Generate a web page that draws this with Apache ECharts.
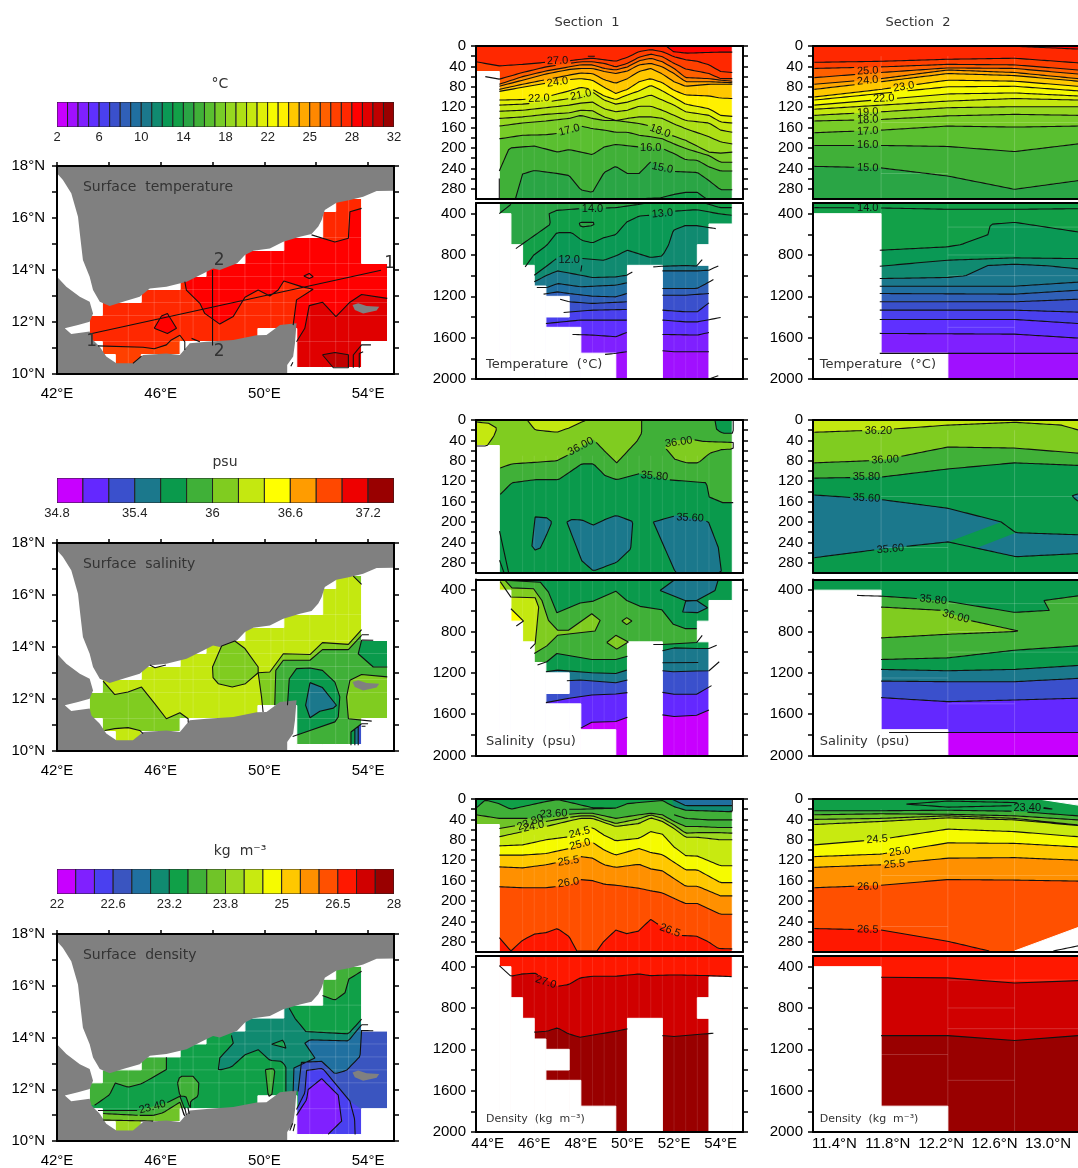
<!DOCTYPE html>
<html><head><meta charset="utf-8">
<style>html,body{margin:0;padding:0;background:#fff}#c{width:1078px;height:1168px}</style>
<script src="https://cdn.jsdelivr.net/npm/echarts@6/dist/echarts.min.js"></script>
</head><body><div id="c"></div>
<script>
// ---------- colour scales ----------
const tempColors=['#c800ff','#a010ff','#7f20ff','#5f30ff','#4a40ee','#3a50cc','#3060b8','#206fa0','#1b788c','#108a70','#0a9955','#12a048','#2aa545','#40b038','#5abf30','#78cc28','#96d820','#aee015','#c6e810','#e0f008','#f6fb00','#fff000','#ffc800','#ffa800','#ff8800','#ff6000','#ff4000','#ff2800','#ff0000','#e00000','#c00000','#990000'];
const salColors=['#c800ff','#6428ff','#3a50cc','#1b788c','#0a9a4c','#40b038','#80cc20','#c4e810','#ffff00','#ff9c00','#ff4800','#ee0000','#990000'];
const densColors=['#c800ff','#8020ff','#4a40f0','#3a55c0','#2070a0','#108a70','#10a048','#40b038','#70c428','#9cd820','#c8ea10','#f6fb00','#ffc800','#ff9000','#ff5000','#ff1800','#d00000','#990000'];
const tempBarIdx=[0,4,8,12,16,20,24,28,32], tempBarLabels=['2','6','10','14','18','22','25','28','32'];
const salBarIdx=[0,3,6,9,12], salBarLabels=['34.8','35.4','36','36.6','37.2'];
const densBarIdx=[0,3,6,9,12,15,18], densBarLabels=['22','22.6','23.2','23.8','25','26.5','28'];
// ---------- axis ticks ----------
const mapLonTicks=[42,44,46,48,50,52,54], mapLonLabels=[42,46,50,54];
const mapLatTicks=[10,11,12,13,14,15,16,17,18], mapLatLabels=[10,12,14,16,18];
const sec1LonLabels=[44,46,48,50,52,54], sec2LatLabels=[11.4,11.8,12.2,12.6,13.0];
const shallowTicks=[0,20,40,60,80,100,120,140,160,180,200,220,240,260,280], shallowLabels=[0,40,80,120,160,200,240,280];
const deepTicks=[400,600,800,1000,1200,1400,1600,1800,2000], deepLabels=[400,800,1200,1600,2000];
// ---------- faint grid traces seen on the fields ----------
const faintMapLons=[44.75,45.75,46.75,47.25,48.25,49.25,50.25,50.75,51.75,52.75,53.25], faintMapLats=[11.25,12.25,12.75,13.25,13.75,14.25,15.25];
const faintSec1Lons=[45.5,46,46.5,47,47.5,48,48.5,49,49.5,50,50.5,51,51.5,52,52.5,53,53.5], faintSec2Lats=[11.75,12.25,12.75];
const faintSec2Upper=[[11.75,13.225,150],[11.75,12.25,250]], faintSec2Lower=[[12.25,13.225,530],[12.25,12.75,800],[12.25,13.225,1000],[11.75,12.25,1250],[12.25,12.75,1500]];
// ---------- map geography (lon, lat) ----------
const arabia=[[42,18],[55,18],[55,17.05],[54.33,17.04],[53.81,16.82],[53.3,16.69],[52.78,16.59],[52.33,16.31],[52.21,15.92],[52.08,15.67],[51.82,15.38],[51.37,15.28],[50.73,15.09],[50.21,14.83],[49.57,14.74],[49.25,14.58],[48.95,14.26],[48.28,14],[48.02,14.06],[47.64,13.87],[47,13.55],[46.22,13.36],[45.58,13.29],[45.19,12.97],[44.55,12.78],[44.03,12.62],[43.65,12.78],[43.39,13.23],[43.26,13.74],[43,14.38],[42.88,15.41],[42.81,16.05],[42.55,16.95],[42.23,17.46],[42,17.72]];
const africa=[[42,13.74],[42.36,13.36],[42.88,12.97],[43.26,12.78],[43.39,12.33],[43.26,12.01],[42.81,11.88],[42.3,11.76],[42.55,11.54],[43.26,11.63],[43.33,11.37],[43.65,11.05],[43.9,10.67],[44.29,10.41],[44.93,10.41],[45.32,10.73],[46.22,10.79],[46.74,10.73],[47.12,11.18],[47.77,11.24],[48.8,11.31],[49.7,11.49],[50.08,11.5],[50.6,11.88],[51.24,11.95],[51.18,11.18],[51.11,10.67],[50.88,10.35],[50.88,10],[42,10]];
const socotra=[[53.4,12.65],[53.62,12.72],[53.94,12.62],[54.43,12.59],[54.33,12.44],[53.81,12.33],[53.49,12.46]];
const oceanCols=[[43.25,43.75,11.25,12.25],[43.75,44.25,10.75,12.75],[44.25,45.25,10.25,12.75],[45.25,46.75,10.75,13.25],[46.75,47.75,11.25,13.75],[47.75,49.25,11.25,14.25],[49.25,49.75,11.25,14.75],[49.75,50.75,11.75,14.75],[50.75,51.25,11.75,15.25],[51.25,52.25,10.25,15.25],[52.25,52.75,10.25,16.25],[52.75,53.75,10.25,16.75],[53.75,54.75,11.25,14.25]];
// ---------- surface temperature map ----------
const mtA=[[46.93,13.55],[46.99,13.23],[47.51,12.72],[47.7,12.33],[48.28,11.92],[48.8,12.21],[49.25,12.95],[49.76,13.23],[50.21,13],[50.53,13.23],[50.75,13.58],[51.43,13.36],[51.88,13.26],[51.24,12.85],[51.11,11.88]];
const mtB=[[54.74,12.91],[53.75,13.06],[53.3,12.76],[52.76,12.21],[52.24,12.76],[51.73,12.63],[51.56,11.76],[51.24,11.24]];
const mtC=[[52.24,10.74],[52.72,10.83],[53.24,10.74],[53.24,10.24],[52.66,10.24],[52.24,10.74]];
const mtBlob=[[45.75,11.76],[46.03,12.23],[46.26,12.33],[46.61,11.76],[46.26,11.56],[45.75,11.76]];
const mtDiamond=[[51.52,13.77],[51.73,13.87],[51.88,13.74],[51.73,13.67],[51.52,13.77]];
const mtNE=[[51.82,15.35],[52.72,15.08],[53.24,15.22],[53.3,16.24],[53.75,16.37]];
const mtSouth=[[43.58,11.08],[45.32,11.03],[45.75,10.97],[46.22,11.12],[46.41,11.31],[46.74,11.49],[46.93,11.24],[46.93,10.92]];
const mtMisc=[[[47.19,11.37],[47.51,11.24]],[[53.43,10.24],[53.43,10.73],[53.75,11.12],[54.11,11.12]],[[53.66,10.24],[53.66,10.79],[53.81,10.86]],[[44.93,10.41],[45.26,10.69]],[[51.02,10.3],[51.1,10.45]]];
const section1Track=[[43.26,11.54],[54.5,13.99]], section2Track=[[48,14],[48,11.1]];
// ---------- surface salinity map ----------
const msWest=[[43.78,12.69],[44.23,12.17],[44.74,12.27],[45.26,12.46],[45.77,11.82],[46.22,11.24],[46.74,11.47],[47.06,11.24],[47.06,11.1]];
const msSouth=[[43.84,10.79],[44.23,10.86],[44.74,10.9],[45.19,10.79],[45.32,10.67]];
const msMid=[[48.35,14.04],[48.86,14.23],[49.25,13.94],[49.76,13.23],[49.76,13.01],[49.27,12.59],[48.76,12.46],[48.22,12.59],[48.02,12.82],[48,13.23],[48.35,14.04]];
const msOuter=[[49.95,11.5],[49.89,12.08],[49.76,13.01],[50.21,13.04],[50.73,13.74],[51.76,13.71],[52.24,14.17],[53.24,14.1],[53.75,14.67]];
const msInner=[[50.4,11.76],[50.44,13.1],[50.73,13.49],[51.76,13.49],[52.24,13.9],[53.24,13.9],[53.75,14.45]];
const msCenter=[[50.89,11.76],[50.96,12.78],[51.24,13.17],[51.76,13.19],[52.24,13.1],[52.72,12.65],[52.91,12.08],[52.85,11.31],[52.72,11.12],[51.76,10.79],[51.09,10.56]];
const msTeal=[[51.76,12.63],[52.24,12.44],[52.78,11.76],[52.66,11.65],[52.14,11.53],[51.76,11.28],[51.59,11.76],[51.76,12.63]];
const msEast=[[54.74,12.85],[53.75,12.94],[53.3,12.72],[53.17,12.08],[53.24,11.24],[54.14,11.15]];
const msNE=[[53.75,14.26],[53.62,13.74],[54.2,13.23],[54.74,13.23]];
const msCorner=[[53.43,16.73],[53.75,16.41]];
const msMisc=[[[45.58,13.31],[45.78,13.2],[46.2,13.31]],[[53.75,14.47],[54.03,14.47]],[[53.75,14.27],[54.2,14.26]],[[53.75,11.05],[54.0,11.05]],[[53.75,10.95],[53.9,10.95]],[[53.34,10.22],[53.34,10.73],[53.75,11.05]],[[53.49,10.22],[53.49,10.85]],[[53.62,10.22],[53.62,10.95]]];
// ---------- surface density map ----------
const mdNW=[[43.45,11.38],[44.03,11.79],[44.25,12.24],[44.74,12.08],[45.26,12.21],[46.22,12.76],[46.22,13.24]];
const mdS1=[[43.58,11.18],[45.13,11.18],[46.29,11.5],[46.74,11.73],[46.93,11.22]];
const mdS2=[[43.78,11.06],[45.19,10.99],[45.71,10.99],[46.09,11.09],[46.74,11.5],[46.93,10.96]];
const mdS3=[[43.78,10.81],[45.71,10.77]];
const mdBlob1=[[46.65,12.24],[46.74,12.5],[47.25,12.5],[47.47,12.24],[47.44,11.73],[47.15,11.54],[47.15,11.22],[46.97,11.73],[46.74,11.73],[46.65,12.24]];
const mdBlob2=[[50.04,12.76],[50.34,12.81],[50.4,12.69],[50.28,11.73],[50.15,11.73],[50.04,12.76]];
const mdNE=[[52.24,15.62],[52.72,15.44],[53.11,15.73],[53.26,16.26],[53.75,16.56]];
const mdTealW=[[48.73,14.08],[48.8,13.78],[48.28,13.21],[48.22,12.73],[48.73,12.86],[49.25,13.33],[49.76,13.53],[50.21,13.12],[50.66,13.08],[50.83,12.88],[50.83,11.92]];
const mdTealN=[[50.96,15.13],[51.18,14.74],[51.6,14.23],[53.24,14.14],[53.75,14.71]];
const mdDiamond=[[50.28,13.74],[50.73,13.91],[50.83,13.59],[50.28,13.74]];
const mdBandN=[[51.11,11.92],[51.14,12.82],[51.95,13.21],[51.56,13.78],[51.76,13.91],[53.24,13.87],[53.75,14.49]];
const mdBandS=[[51.3,11.92],[51.43,13.04],[52.21,13.08],[52.72,12.6],[53.17,12.73],[53.69,13.27],[53.75,14.29]];
const mdInd=[[51.24,11.22],[51.56,11.86],[51.63,12.73],[52.24,12.81],[52.72,12.24],[53.3,11.54],[53.48,10.85],[53.5,10.25]];
const mdPur=[[51.24,10.99],[51.63,11.6],[51.69,11.99],[52.21,12.41],[52.85,11.77],[52.98,10.77],[52.46,10.26]];
const mdMisc=[[[53.75,14.49],[54,14.49]],[[53.75,14.27],[54.2,14.26]],[[46.8,11.32],[46.9,11]],[[46.93,11.3],[46.99,11]],[[47.05,11.3],[47.1,11.05]],[[50.98,10.4],[51.09,10.68]],[[51.11,10.38],[51.18,10.66]]];
// ---------- section masks ----------
const sec1TopMask=[[43.4,44.5,50,300],[54.5,55,0,300]];
const sec1DeepMask=[[43.4,44.5,290,2000],[44.5,45,400,2000],[45,45.5,700,2000],[45.5,46,900,2000],[46,46.5,1100,2000],[46.5,47.5,1200,1400],[46.5,47.5,1500,2000],[47.5,48,1500,2000],[48,49.5,1750,2000],[50,51.5,900,2000],[53,53.5,700,900],[53.5,54.5,500,2000],[54.5,55,290,2000]];
const sec2DeepMask=[[11.2,11.75,400,2000],[11.75,12.25,1750,2000]];
// ---------- section 1 temperature, 0-300 m ----------
const s1St=[44.5,45.5,46.5,47.5,48,48.5,49,49.5,50,50.5,51,51.5,52,52.5,53.5,54,54.5];
const t1a0=[[43.5,0],[51.3,0],[51.69,1],[51.97,11],[52.54,14],[53.97,12],[54.5,12]];
const t1a27=[[43.5,31],[44.5,39],[45.5,36],[46.5,32],[47.5,29],[48,26],[48.5,24],[49,27],[49.5,30],[50,22],[50.5,11],[51,7],[51.5,11],[52,21],[52.5,27],[53,30],[53.5,37],[54,50],[54.5,52]];
const t1aB=[65,52,41,34,31,31,34,41,34,22,16,21,34,45,54,64,64];
const t1aC=[75,60,49,41,37,37,44,47,41,29,24,31,44,62,64,67,69];
const t1aD=[79,67,55,46,44,44,50,54,49,37,34,41,54,70,70,71,72];
const t1aE=[85,75,66,57,53,54,66,73,64,50,44,55,70,79,75,75,75];
const t1aF=[89,81,73,66,64,67,81,93,85,70,64,72,87,96,98,102,103];
const t1aG=[106,105,100,88,81,85,98,105,96,88,77,88,101,114,123,136,138];
const t1aH=[116,114,110,103,96,90,106,114,110,103,96,106,116,129,136,149,151];
const t1aI=[128,126,121,116,112,110,123,129,126,118,118,126,136,146,151,165,169];
const t1aJ=[142,139,134,131,126,127,139,146,142,139,139,142,153,162,178,188,192];
const t1aK=[157,151,147,142,136,142,146,146,149,152,157,169,177,185,208,210,208];
const t1aL=[182,175,174,169,157,162,165,169,169,175,178,182,192,201,215,228,228];
const t1a16=[[44.5,245],[44.93,200],[46,196],[47,208],[47.5,203],[48.5,213],[49,198],[49.5,193],[50.5,198],[51.5,201],[52,211],[52.5,223],[53,224],[53.5,237],[54,245],[54.5,245]];
const t1a15=[[45.19,300],[45.5,251],[46,244],[47,250],[47.5,254],[48,282],[48.5,287],[49,248],[49.5,236],[50,250],[50.5,250],[51,227],[52,246],[53,248],[53.5,264],[54,282],[54.5,282]];
const t1a14=[[50,300],[51.4,298],[52,291],[52.5,287],[53,287],[53.4,300]];
// ---------- section 1 temperature, deep ----------
const t1b14=[[45.21,738],[46.69,503],[46.64,400],[46.97,368],[47.97,352],[49.5,342],[50.5,310],[50.83,297]];
const t1b13=[[45.61,915],[45.97,803],[46.54,706],[46.97,584],[47.61,584],[48.04,658],[48.5,683],[49,632],[49.5,603],[49.97,481],[50.5,423],[50.97,416],[51.97,377],[52.97,361],[53.9,400],[54.47,416]];
const t1b12=[[46,996],[46.54,906],[47.04,819],[48.11,835],[49,851],[49.5,809],[50,754],[51,825],[51.5,809],[51.76,706],[51.97,561],[52.47,516],[52.97,516],[53.79,545]];
const t1b11=[[46,1060],[46.54,996],[47,954],[48,996],[48.5,1018],[49.5,1012],[49.97,996],[50.21,964],null,[51.11,915],[51.5,909],[52.5,902],[52.97,906],[53.21,844]];
const t1b10=[[46.11,1115],[46.54,1115],[47,1076],[48,1108],[49.5,1092],[49.97,1070],null,[51.5,954],[52.97,954],[53.5,947],[53.9,906]];
const t1b9=[[46.4,1179],[47,1157],[47.5,1173],[48.5,1199],[49.5,1205],[49.97,1173],null,[51.5,1125],[52.97,1125],[53.26,1092],[53.69,1038]];
const t1b8=[[47.11,1228],[47.5,1253],[48.5,1269],[49.97,1253],null,[51.5,1189],[52.5,1189],[53.5,1173]];
const t1b7=[[47.26,1356],[48.5,1334],[49.97,1327],null,[51.5,1334],[52.5,1350],[53,1350],[53.5,1263]];
const t1b6=[[46.5,1463],[47.97,1430],[49.97,1430],null,[51.5,1430],[52.5,1447],[53,1447],[54,1405]];
const t1b5=[[47.64,1569],[48.5,1575],[49.5,1591],[49.97,1550],null,[51.5,1569],[53,1575],[53.5,1550]];
const t1b4=[[49.04,1762],[49.5,1752],[49.97,1736],null,[51.5,1727],[52,1736],[53.5,1736]];
const t1bRing=[[47.94,490],[48.04,484],[48.54,484],[48.57,513],[48.04,529],[47.94,513],[47.94,490]];
// ---------- section 2 temperature ----------
const sec2St=[11.25,11.75,12.25,12.75,13.225];
const t2aTop=[[12.79,1],[13.225,6]];
const t2aRows=[[32,30,26,24,33],[44,41,36,37,47],[62,52,43,44,55],[75,64,47,52,64],[85,70,54,58,69],[100,85,67,69,79],[106,93,80,79,88],[116,105,94,92,98],[124,116,108,103,106],[136,129,121,119,119],[147,144,137,134,136],[170,165,157,159,157],[195,195,197,207,192],[236,239,255,281,264]];
const t2aShades=[26,25,24,23,22,21,20,19,18,16,15,14,13,12];
const t2b14=[[11.25,342],[11.75,345],[12.25,358],[12.75,358],[13.225,352]];
const t2b13=[[11.74,754],[12.24,722],[12.35,699],[12.55,603],[12.57,503],[12.75,484],[13.225,577]];
const t2bRows=[[909,851,828,835],[1102,1102,1063],[1173,1179,1141],[1253,1253,1228],[1334,1334,1353],[1424,1424,1463],[1559,1566,1604],[1752,1752,1752]];
const t2b11=[[11.74,1028],[12.24,1018],[12.38,1002],[12.55,902],[12.75,889],[13,905],[13.225,934]];
// ---------- section 1 salinity ----------
const s1aLeft=[[43.54,4],[44.04,6.5],[44.4,16],[44.26,32],[43.97,51],[43.5,51],[43.5,4]];
const s1aTop=[[45.71,1],[46.04,19.5],[46.97,24],[47.47,16],[48.19,1]];
const s1aTR=[[53.76,1],[53.83,19.5],[54.11,26],[54.54,26],[54.54,1]];
const s1a36=[[44.54,94],[45.04,86],[46.04,83],[46.97,80],[47.47,68],[48.54,38],[49.04,62],[49.54,84],[50.4,42],[50.61,26],[50.61,1]];
const s1aPatch=[[51.61,54],[51.97,40],[52.76,38],[53.26,42],[54.54,44],[54.54,57],[54.04,58],[53.54,65],[53.04,84],[52.54,84],[52.04,77],[51.61,54]];
const s1a358=[[44.54,146],[45.04,123],[46.04,117],[47.04,117],[48.04,86],[48.54,86],[49.04,109],[49.54,117],[50.54,105],[51.69,117],[53.39,123],[53.51,151],[54.09,162],[54.54,162]];
const s1aB1=[[46.04,190],[46.54,192],[46.76,200],[46.51,227],[46.26,251],[46.04,255],[45.9,247],[46.04,190]];
const s1aB2=[[47.4,200],[47.61,195],[48.04,196],[48.54,206],[49.04,195],[49.51,187],[50.23,199],[50.14,253],[49.54,279],[48.54,296],[48.04,276],[47.4,200]];
const s1aB3=[[51.11,200],[52.11,187],[53.47,199],[53.9,250],[54.04,300],[52.07,300],[51.11,200]];
const s1bA=[[44.9,307],[46.26,323],[46.61,419],[46.97,618],[47.97,525],[48.54,506],[49.5,410],[49.97,500],[50.54,557],[51.47,589],[51.97,731],[52.47,772],[52.97,772]];
const s1bB=[[44.76,307],[45.04,378],[45.97,387],[46.33,500],[46.61,692],[47,788],[47.47,788],[48.47,628],[48.83,692],[48.61,795],[47,837],[46.54,939],[46,1013]];
const s1bC=[[44.54,317],[45,467],[46.04,474],[46.19,564],[46.11,756],[46.04,917],[45.83,965]];
const s1bY=[[45,580],[45.54,699],[45.23,747]];
const s1bD1=[[49.76,699],[49.97,666],[50.19,699],[49.97,734],[49.76,699]];
const s1bD2=[[49.11,907],[49.5,837],[50.04,901],[49.54,971],[49.11,907]];
const s1bT1=[[51.4,403],[52.04,297],[53.9,297],[53.76,403],[52.97,500],[52.47,500],[51.4,403]];
const s1bT2=[[52.5,506],[52.97,500],[53.44,570],[53,618],[52.37,612],[52.5,506]];
const s1bL4=[[46.14,1125],[46.54,1093],[46.97,1013],[48.47,1071],[49.5,1071],[50,1039],null,[51.11,926],[51.5,926],[52.97,907],[53.21,837]];
const s1bL3=[[46.5,1190],[47,1174],[48.47,1199],[49.5,1206],[49.97,1174],null,[51.5,987],[52,959],[52.97,965],[53.5,965],[53.83,933]];
const s1bL2=[[47.4,1276],[47.97,1270],[49.5,1296],[50,1270],null,[51.5,1180],[51.97,1190],[52.97,1183],[53.5,1180],[53.94,1093]];
const s1bL1=[[46.5,1488],[47.5,1446],[48.47,1414],[49.5,1405],[50,1392],null,[51.5,1389],[52,1408],[52.97,1408],[53.61,1324]];
const s1bL0=[[48,1735],[48.47,1678],[49.5,1671],[50,1629],null,[51.5,1607],[52,1623],[52.97,1610],[53.5,1559]];
// ---------- section 2 salinity ----------
const s2a362=[[11.25,24],[11.75,19.5],[12.25,10],[12.75,4.5],[13.1,10],[13.225,19.5]];
const s2a360=[[11.25,84],[11.75,79],[12.25,53],[12.75,55],[13.225,65]];
const s2a358=[[11.25,114],[11.75,112],[12.25,96],[12.75,84],[13.225,89]];
const s2a356=[[11.25,147],[11.75,156],[12.25,173],[12.65,200],[12.76,221],[13.225,225]];
const s2a356b=[[11.25,270],[11.75,253],[12.25,239],[12.76,268],[13.225,262]];
const s2aWedge=[[12.25,239],[12.65,200],[12.76,221],[12.475,250],[12.25,239]];
const s2aNick=[[13.225,145],[13.175,149],[13.225,159]];
const s2b358=[[11.57,451],[11.75,458],[12.04,483],[12.25,509],[12.75,615],[13.01,596],[12.97,500],[13.225,455]];
const s2b360=[[11.75,564],[12.21,596],[12.41,692],[12.79,798],[12.25,827],[11.75,862]];
const s2bA=[[11.75,1071],[12.25,1055],[12.75,981],[13.225,939]];
const s2bB=[[11.75,1167],[12.25,1180],[12.75,1167],[13.225,1129]];
const s2bC=[[11.75,1280],[12.25,1286],[12.75,1286],[13.225,1254]];
const s2bD=[[11.75,1440],[12.25,1479],[12.75,1463],[13.225,1446]];
const s2bE=[[11.81,1777],[13.225,1777]];
// ---------- section 1 density ----------
const d1aA=[[43.5,18],[43.9,2],[44.47,9],[45,20],[46.5,5],[47,1],[48.5,17],[49.5,18],[50,9],[51.5,3],[52,15],[52.5,22],[54.5,25]];
const d1aTeal=[[51.9,0],[52.5,13],[54.5,13],[54.5,0]];
const d1aDk=[[51.9,0],[52.5,13],[54.5,13],[54.5,25],[52.5,22],[52,15]];
const d1aExtra=[[[52,31],[52.5,38],[53.5,41],[54.5,41]],[[47.5,20],[48,20],[49.5,18]]];
const d1St=[44.5,45.5,46.5,47.5,48,48.5,49,49.5,50.5,51,51.5,52,52.5,53,54,54.5];
const d1a236=[38,38,38,30,28,28,33,38,31,28,31,44,54,54,56,56];
const d1a238=[58,50,44,36,33,33,41,48,39,31,38,51,67,66,66,67];
const d1a240=[74,64,54,43,38,38,46,54,48,37,44,58,75,75,80,80];
const d1a245=[92,90,80,74,61,56,71,82,77,64,69,94,111,112,131,131];
const d1a250=[110,110,107,97,84,85,100,110,97,105,109,124,139,139,164,164];
const d1a255=[133,135,129,120,113,116,129,134,128,137,141,156,171,171,190,190];
const d1a260=[172,174,174,169,158,160,167,169,175,180,184,195,205,205,226,226];
const d1a265=[[44.5,272],[45,298],[45.5,277],[46,265],[46.5,262],[47,254],[47.5,270],[47.83,298],[48.69,298],[48.97,280],[49.5,257],[49.97,264],[50.47,259],[51,236],[52,267],[52.97,269],[53.47,280],[53.9,293],[54.5,294]];
const d1b27=[[44.5,390],[45,493],[45.47,471],[46.04,464],[47,590],[47.47,574],[47.97,509],[48.5,493],[49.5,493],[50.5,471],[51,487],[51.97,480],[53.5,487],[54.47,497]];
const d1b275=[[46,1034],[46.54,1025],[47,992],[47.47,1050],[47.97,1083],[49.5,1025],[50,1002],null,[51.5,1067],[52,1076],[53,1057],[53.69,1044]];
// ---------- section 2 density ----------
const d2aRing=[[11.94,10],[12.25,4],[12.75,7],[13.04,20],[12.75,13],[12.25,16],[11.94,10]];
const d2aCorner=[[12.93,0],[13.225,12],[13.3,12],[13.3,0]];
const d2aRows=[[23,23,22,24,33],[31,29,30,33,41],[40,38,33,38,51],[50,44,37,41,52],[90,79,59,64,74],[113,108,86,87,94],[134,129,116,115,120],[174,169,158,159,161]];
const d2aShades=[7,8,9,10,11,12,13,14];
const d2a265=[[11.25,254],[11.75,257],[12.25,279],[12.56,298]];
const d2aWedge=[[12.75,298],[13.225,252],[13.3,252],[13.3,302],[12.75,302]];
const d2aWedgeLine=[[13.04,298],[13.225,288]];
const d2b27=[[11.75,503],[12.25,509],[12.75,558],[13.225,535]];
const d2b275=[[11.75,1067],[12.25,1067],[12.75,1115],[13.225,1067]];

// ---------- helpers ----------
const zip=(xs,ys)=>xs.map((x,i)=>[x,ys[i]]);
const box=(a,b,c,d)=>[[a,c],[b,c],[b,d],[a,d]];
const sans='"Liberation Sans",Arial,sans-serif', deja='"DejaVu Sans",sans-serif';
const grids=[],xAxes=[],yAxes=[],series=[],titles=[];

function drawing(shapes,xi,yi,z){
  series.push({type:'custom',xAxisIndex:xi,yAxisIndex:yi,z,clip:true,silent:true,animation:false,
    encode:{x:0,y:1},
    data:shapes.map(s=>s.pts?[s.pts[0][0],s.pts[0][1]]:[s.x,s.y]),
    renderItem:(params,api)=>{
      const s=shapes[params.dataIndex];
      if(s.faint) return {type:'polyline',shape:{points:s.pts.map(p=>api.coord(p))},style:{fill:null,stroke:'rgba(255,255,255,'+s.faint+')',lineWidth:1}};
      if(s.pts) return {type:'polygon',shape:{points:s.pts.map(p=>api.coord(p))},style:{fill:s.fill,stroke:s.stroke||null,lineWidth:s.stroke?(s.sw||1):0}};
      const c=api.coord([s.x,s.y]);
      return {type:'text',x:c[0],y:c[1],rotation:(s.rot||0)*Math.PI/180,
        style:{text:s.text,fill:s.color||'#111',font:s.font,align:s.align||'center',verticalAlign:'middle',textAlign:s.align||'center',textVerticalAlign:'middle'}};
    }});
}
// open a gap in a contour where its printed value sits, as the reference does
function gapLine(line,p){
  const labels=p.labels||[]; if(!labels.length) return line;
  const [,,w,h]=p.rect, sx=w/(p.xr[1]-p.xr[0]), sy=(p.map?-1:1)*h/(p.yr[1]-p.yr[0]);
  const hidden=q=>labels.some(([x,y,text,rot])=>{
    const dx=(q[0]-x)*sx, dy=(q[1]-y)*sy, r=(rot||0)*Math.PI/180;
    return Math.abs(dx*Math.cos(r)-dy*Math.sin(r))<text.length*2.9+1 && Math.abs(dx*Math.sin(r)+dy*Math.cos(r))<4.5;
  });
  const out=[]; let prev=null;
  line.forEach(q=>{
    if(!q){out.push(null);prev=null;return}
    if(!prev){out.push(hidden(q)?null:q);prev=q;return}
    const n=Math.max(1,Math.ceil(Math.hypot((q[0]-prev[0])*sx,(q[1]-prev[1])*sy)));
    for(let k=1;k<=n;k++){
      const t=k/n, pt=[prev[0]+(q[0]-prev[0])*t,prev[1]+(q[1]-prev[1])*t];
      if(hidden(pt)){if(out[out.length-1]!==null) out.push(null)} else out.push(pt);
    }
    prev=q;
  });
  return out;
}
function panel(p){
  const [l,t,w,h]=p.rect, pal=p.pal, gi=grids.length;
  grids.push({left:l,top:t,width:w,height:h,containLabel:false});
  const xi=xAxes.length, yi=yAxes.length, ax={color:'#000',width:2};
  const baseX={gridIndex:gi,type:'value',min:p.xr[0],max:p.xr[1],z:10,splitLine:{show:false}};
  const baseY={gridIndex:gi,type:'value',min:p.yr[0],max:p.yr[1],inverse:!p.map,z:10,splitLine:{show:false}};
  xAxes.push({...baseX,position:'bottom',axisLine:{show:true,onZero:false,lineStyle:ax},axisTick:{show:false},
    axisLabel:p.xLabels?{show:true,customValues:p.xLabels,formatter:p.xFmt,margin:p.map?12:4,fontFamily:sans,fontSize:15,color:'#000'}:{show:false}});
  xAxes.push({...baseX,position:'top',axisLine:{show:true,onZero:false,lineStyle:ax},
    axisTick:p.xTicks?{show:true,length:4,customValues:p.xTicks,lineStyle:{color:'#000',width:1.5}}:{show:false},axisLabel:{show:false}});
  yAxes.push({...baseY,position:'left',axisLine:{show:true,onZero:false,lineStyle:ax},
    axisTick:{show:true,length:5,customValues:p.yTicks,lineStyle:{color:'#000',width:1.5}},
    axisLabel:{show:true,customValues:p.yLabels,formatter:p.yFmt||(v=>''+v),margin:p.map?12:10,fontFamily:sans,fontSize:15,color:'#000'}});
  if(p.rightAxis) yAxes.push({...baseY,position:'right',axisLine:{show:true,onZero:false,lineStyle:ax},
    axisTick:{show:true,length:5,customValues:p.yTicks,lineStyle:{color:'#000',width:1.5}},axisLabel:{show:false}});
  const shapes=[], col=i=>pal[i], [x0,x1]=p.xr, yB=p.yr[1], yT=p.yr[0];
  shapes.push({pts:box(x0,x1,yT,yB),fill:col(p.base)});
  (p.bands||[]).forEach(([c,line])=>{
    const pts=line.filter(Boolean);
    shapes.push({pts:[[x0,pts[0][1]],...pts,[x1,pts[pts.length-1][1]],[x1,yB],[x0,yB]],fill:col(c)});
  });
  (p.fills||[]).forEach(([c,poly])=>shapes.push({pts:poly,fill:col(c)}));
  (p.faint||[]).forEach(seg=>shapes.push({pts:seg,faint:p.faintAlpha||0.15}));
  (p.masks||[]).forEach(poly=>shapes.push({pts:poly,fill:'#fff',stroke:'#fff',sw:1}));
  (p.land||[]).forEach(poly=>shapes.push({pts:poly,fill:'#808080'}));
  drawing(shapes,xi,yi,1);
  const lineData=[];
  const addLine=ln=>{gapLine(ln,p).forEach(q=>lineData.push(q?q:['-','-']));lineData.push(['-','-'])};
  (p.bands||[]).forEach(([c,line])=>addLine(line));
  (p.lines||[]).forEach(addLine);
  series.push({type:'line',xAxisIndex:xi,yAxisIndex:yi,z:2,data:lineData,symbol:'none',showSymbol:false,silent:true,animation:false,connectNulls:false,
    lineStyle:{color:'#111',width:1.1}});
  const marks=[];
  (p.labels||[]).forEach(([x,y,text,rot])=>marks.push({x,y,text,rot,font:'11px '+sans}));
  (p.notes||[]).forEach(([x,y,text,size])=>marks.push({x,y,text,align:'left',color:'#333',font:(size||13)+'px '+deja}));
  if(marks.length) drawing(marks,xi,yi,3);
}
function bar(rect,colors,idx,labels){
  const gi=grids.length,[l,t,w,h]=rect;
  grids.push({left:l,top:t,width:w,height:h});
  const xi=xAxes.length,yi=yAxes.length;
  xAxes.push({gridIndex:gi,type:'value',min:0,max:colors.length,z:10,splitLine:{show:false},axisTick:{show:false},
    axisLine:{show:false},axisLabel:{show:true,customValues:idx,formatter:v=>labels[idx.indexOf(v)],margin:4,fontFamily:sans,fontSize:13,color:'#222'}});
  yAxes.push({gridIndex:gi,type:'value',min:0,max:1,show:false});
  drawing(colors.map((c,i)=>({pts:box(i,i+1,0,1),fill:c,stroke:'#222'})),xi,yi,1);
}
const heading=(text,x,y,size)=>titles.push({text,left:x,top:y-6,padding:0,textAlign:'center',textStyle:{fontFamily:deja,fontWeight:'normal',fontSize:size||13,color:'#333'}});
const vertical=(xs,a,b)=>xs.map(x=>[[x,a],[x,b]]);
const horizontal=rows=>rows.map(([a,b,y])=>[[a,y],[b,y]]);

// ---------- masks for maps ----------
const mapMask=[box(42,43.25,10,18),box(54.75,55,10,18)];
oceanCols.forEach(([a,b,s,n])=>{mapMask.push(box(a,b,10,s));mapMask.push(box(a,b,n,18))});
const mapFaint=[...vertical(faintMapLons,10,17),...horizontal(faintMapLats.map(v=>[43,55,v]))];
const mapCommon={xr:[42,55],yr:[10,18],map:true,xLabels:mapLonLabels,xTicks:mapLonTicks,xFmt:v=>v+'°E',yTicks:mapLatTicks,yLabels:mapLatLabels,yFmt:v=>v+'°N',rightAxis:true,masks:mapMask,land:[arabia,africa,socotra],faint:mapFaint,faintAlpha:0.16};

// ---------- colour bars and headings ----------
bar([57,102,337,25],tempColors,tempBarIdx,tempBarLabels);
bar([57,478,337,25],salColors,salBarIdx,salBarLabels);
bar([57,869,337,25],densColors,densBarIdx,densBarLabels);
heading('Section  1',587,22); heading('Section  2',918,22);
heading('°C',220,83,14); heading('psu',225,461,14); heading('kg  m⁻³',240,850,14);

// ---------- maps ----------
panel({...mapCommon,rect:[57,166,337,208],pal:tempColors,base:27,
  fills:[[28,[...mtA,[51.11,10],[55,10],[55,18],[46.93,18]]],[27,[...mtNE,[53.75,17],[51.82,17]]],[29,[...mtB,[51.24,10],[54.74,10]]],[30,mtC],[28,mtBlob],[26,[...mtSouth,[46.93,10],[43.58,10]]]],
  lines:[mtA,mtB,mtC,mtBlob,mtDiamond,mtNE,mtSouth,...mtMisc,section1Track,section2Track],
  notes:[[43,17.17,'Surface  temperature',14],[43.13,11.24,'1',17],[54.62,14.23,'1',17],[48.05,14.38,'2',17],[48.05,10.88,'2',17]]});
panel({...mapCommon,rect:[57,543,337,208],pal:salColors,base:7,
  fills:[[6,[...msWest,[47.06,10],[42,10],[42,12.69]]],[7,[...msSouth,[45.32,10],[43.84,10]]],[6,msMid],[6,[...msOuter,[55,14.67],[55,10],[49.95,10]]],[5,[...msInner,[55,14.45],[55,10],[50.4,10]]],[4,msCenter],[3,msTeal],[6,[...msEast,[54.74,11.15]]],[4,[...msNE,[54.74,14.26]]],[6,[...msCorner,[53.75,16.76]]],
    [4,[[53.34,10],[53.34,10.73],[53.75,11.05],[53.75,10]]],[3,[[53.49,10],[53.49,10.85],[53.75,11.05],[53.75,10]]],[2,[[53.62,10],[53.62,10.95],[53.75,11.05],[53.75,10]]]],
  lines:[msWest,msSouth,msMid,msOuter,msInner,msCenter,msTeal,msEast,msNE,msCorner,...msMisc],
  notes:[[43,17.17,'Surface  salinity',14]]});
panel({...mapCommon,rect:[57,934,337,208],pal:densColors,base:6,
  fills:[[7,[...mdNW,[42,13.24],[42,11.38]]],[7,[...mdS1,[46.93,10],[43.58,10]]],[8,[...mdS2,[46.93,10],[43.78,10]]],[9,[...mdS3,[45.71,10],[43.78,10]]],[7,mdBlob1],[7,mdBlob2],[7,[...mdNE,[53.75,17],[52.24,17]]],
    [5,[...mdTealW,[55,11.92],[55,14.71],[53.75,14.71],[53.24,14.14],[51.6,14.23],[51.18,14.74],[50.96,15.13],[48.8,15.13]]],[6,mdDiamond],
    [4,[...mdBandN,...mdBandS.slice().reverse()]],[3,[...mdBandS,[55,14.29],[55,10],[51.3,10]]],[2,[[51.24,11.22],[51.56,11.86],[51.63,12.73],[52.24,12.81],[52.72,12.24],[53.3,11.54],[53.75,11.22],[53.75,10],[51.24,10]]],[1,[...mdPur,[51.24,10.26]]]],
  lines:[mdNW,mdS1,mdS2,mdS3,mdBlob1,mdBlob2,mdNE,mdTealW,mdTealN,mdDiamond,mdBandN,mdBandS,mdInd,mdPur,...mdMisc],
  labels:[[45.68,11.31,'23.40',15]],
  notes:[[43,17.17,'Surface  density',14]]});

// ---------- sections ----------
const s1Common={xr:[43.5,54.96],rightAxis:true,faintAlpha:0.1}, s2Common={xr:[11.24,13.225],faintAlpha:0.18};
const upper={yr:[0,300],yTicks:shallowTicks,yLabels:shallowLabels}, lower={yr:[297,2000],yTicks:deepTicks,yLabels:deepLabels};
const s1UpperFaint={faint:vertical(faintSec1Lons,70,300)}, s1LowerFaint={faint:vertical(faintSec1Lons,297,2000)};
const s2UpperFaint={faint:[...vertical(faintSec2Lats,20,300),...horizontal(faintSec2Upper)]}, s2LowerFaint={faint:[...vertical(faintSec2Lats,297,2000),...horizontal(faintSec2Lower)]};
const latFmt=v=>v.toFixed(1)+'°N', lonFmt=v=>v+'°E';
const s1masksTop=sec1TopMask.map(r=>box(r[0],r[1],r[2],r[3])), s1masksDeep=sec1DeepMask.map(r=>box(r[0],r[1],r[2],r[3])), s2masksDeep=sec2DeepMask.map(r=>box(r[0],r[1],r[2],r[3]));

panel({...s1Common,...upper,...s1UpperFaint,rect:[476,46,267,153],pal:tempColors,base:28,masks:s1masksTop,
  bands:[[27,t1a0],[26,t1a27],[25,zip(s1St,t1aB)],[24,zip(s1St,t1aC)],[23,zip(s1St,t1aD)],[22,zip(s1St,t1aE)],[21,zip(s1St,t1aF)],[19,zip(s1St,t1aG)],[18,zip(s1St,t1aH)],[17,zip(s1St,t1aI)],[16,zip(s1St,t1aJ)],[15,zip(s1St,t1aK)],[14,zip(s1St,t1aL)],[13,t1a16],[12,t1a15],[11,t1a14]],
  lines:[[[44.5,260],[44.5,300]],[[48.3,20],[48.6,20]],[[43.9,60],[44.5,65]]],
  labels:[[47,29,'27.0',2],[47,71,'24.0',8],[46.2,103,'22.0',3],[48,96,'21.0',12],[47.5,165,'17.0',15],[51.4,167,'18.0',-20],[51,199,'16.0',0],[51.5,239,'15.0',-12]]});
panel({...s1Common,...lower,...s1LowerFaint,rect:[476,203,267,176],pal:tempColors,base:12,masks:s1masksDeep,
  bands:[[11,t1b14],[10,t1b13],[9,t1b12],[8,t1b11],[7,t1b10],[6,t1b9],[5,t1b8],[4,t1b7],[3,t1b6],[2,t1b5],[1,t1b4]],
  fills:[[12,t1bRing]],
  lines:[t1bRing,[[44.5,400],[45,310]],[[53.4,303],[53.97,342],[54.47,342]],[[53.5,2000],[53.9,1968]],[[48.04,900],[48.0,960]]],
  labels:[[48.5,352,'14.0',0],[51.5,400,'13.0',5],[47.5,844,'12.0',0]],
  notes:[[43.93,1859,'Temperature  (°C)',13]]});
panel({...s2Common,...upper,...s2UpperFaint,rect:[813,46,265,153],pal:tempColors,base:27,
  bands:t2aRows.map((r,i)=>[t2aShades[i],zip(sec2St,r)]),
  fills:[[28,[...t2aTop,[13.225,0],[12.79,0]]]],lines:[t2aTop],
  labels:[[11.65,49,'25.0',3],[11.65,68,'24.0',5],[11.92,80,'23.0',9],[11.77,103,'22.0',3],[11.65,130,'19.0',3],[11.65,145,'18.0',3],[11.65,167,'17.0',3],[11.65,195,'16.0',0],[11.65,239,'15.0',-2]]});
panel({...s2Common,...lower,...s2LowerFaint,rect:[813,203,265,176],pal:tempColors,base:11,masks:s2masksDeep,
  bands:[[11,t2b14],[10,t2b13],[9,zip([11.74,12.24,12.75,13.225],t2bRows[0])],[8,t2b11],[7,zip([11.74,12.75,13.225],t2bRows[1])],[6,zip([11.74,12.75,13.225],t2bRows[2])],[5,zip([11.74,12.75,13.225],t2bRows[3])],[4,zip([11.74,12.75,13.225],t2bRows[4])],[3,zip([11.74,12.75,13.225],t2bRows[5])],[2,zip([11.74,12.75,13.225],t2bRows[6])],[1,zip([11.74,12.75,13.225],t2bRows[7])]],
  labels:[[11.65,345,'14.0',0]],
  notes:[[11.29,1859,'Temperature  (°C)',13]]});

panel({...s1Common,...upper,...s1UpperFaint,rect:[476,420,267,153],pal:salColors,base:6,masks:s1masksTop,
  bands:[[5,s1a36],[4,s1a358]],
  fills:[[7,s1aLeft],[7,s1aTop],[4,s1aTR],[6,s1aPatch],[3,s1aB1],[3,s1aB2],[3,s1aB3]],
  lines:[s1aLeft,s1aTop,s1aTR,s1aPatch,s1aB1,s1aB2,s1aB3,[[44.51,218],[44.9,299]],[[44.51,275],[44.7,299]]],
  labels:[[48,52,'36.00',28],[52.2,43.5,'36.00',8],[51.16,110,'35.80',-5],[52.69,192,'35.60',-3]]});
panel({...s1Common,...lower,...s1LowerFaint,rect:[476,579.5,267,176],pal:salColors,base:4,masks:s1masksDeep,
  bands:[[5,s1bA]],
  fills:[[6,[...s1bB,[44.4,1013],[44.4,307]]],[7,[...s1bC,[44.4,965],[44.4,317]]],[8,[...s1bY,[45,747]]],[6,s1bD1],[6,s1bD2],[3,s1bT1],[3,s1bT2],
    [4,[[43.5,1125],...s1bL4.filter(Boolean),[55,837],[55,2000],[43.5,2000]]],[3,[[43.5,1190],...s1bL3.filter(Boolean),[55,933],[55,2000],[43.5,2000]]],[2,[[43.5,1276],...s1bL2.filter(Boolean),[55,1093],[55,2000],[43.5,2000]]],[1,[[43.5,1488],...s1bL1.filter(Boolean),[55,1324],[55,2000],[43.5,2000]]],[0,[[43.5,1735],...s1bL0.filter(Boolean),[55,1559],[55,2000],[43.5,2000]]]],
  lines:[s1bB,s1bC,s1bY,s1bD1,s1bD2,s1bT1,s1bT2,s1bL4,s1bL3,s1bL2,s1bL1,s1bL0,[[51.5,1103],[53.04,1100]]],
  notes:[[43.93,1864,'Salinity  (psu)',13]]});
panel({...s2Common,...upper,...s2UpperFaint,rect:[813,420,265,153],pal:salColors,base:7,
  bands:[[6,s2a362],[5,s2a360],[4,s2a358],[3,s2a356],[4,s2a356b]],
  fills:[[4,s2aWedge],[3,s2aNick]],lines:[s2aNick],
  labels:[[11.73,21,'36.20',0],[11.78,78,'36.00',3],[11.64,112,'35.80',0],[11.64,153,'35.60',-3],[11.82,253,'35.60',5]]});
panel({...s2Common,...lower,...s2LowerFaint,rect:[813,579.5,265,176],pal:salColors,base:4,masks:s2masksDeep,
  bands:[[5,s2b358],[4,s2bA],[3,s2bB],[2,s2bC],[1,s2bD],[0,s2bE]],
  fills:[[6,s2b360]],lines:[s2b360],
  labels:[[12.14,493,'35.80',-6],[12.31,654,'36.00',-15]],
  notes:[[11.29,1864,'Salinity  (psu)',13]]});

panel({...s1Common,...upper,...s1UpperFaint,rect:[476,799,267,153],pal:densColors,base:6,masks:s1masksTop,
  bands:[[7,d1aA],[8,[[43.5,31],...zip(d1St,d1a236)]],[9,zip(d1St,d1a238)],[10,zip(d1St,d1a240)],[11,zip(d1St,d1a245)],[12,zip(d1St,d1a250)],[13,zip(d1St,d1a255)],[14,zip(d1St,d1a260)],[15,d1a265]],
  fills:[[5,d1aDk],[4,d1aTeal]],lines:[d1aTeal,d1aDk,...d1aExtra],
  labels:[[46.83,29,'23.60',3],[45.83,46,'23.80',22],[45.97,54,'24.0',12],[47.94,66,'24.5',15],[47.97,89,'25.0',15],[47.47,122,'25.5',8],[47.47,164,'26.0',8],[51.83,258,'26.5',-20]]});
panel({...s1Common,...lower,...s1LowerFaint,rect:[476,956,267,176],pal:densColors,base:15,masks:s1masksDeep,
  bands:[[16,d1b27],[17,d1b275]],
  labels:[[46.5,551,'27.0',-18]],
  xLabels:sec1LonLabels,xFmt:lonFmt,
  notes:[[43.93,1871,'Density  (kg  m⁻³)',11]]});
panel({...s2Common,...upper,...s2UpperFaint,rect:[813,799,265,153],pal:densColors,base:6,
  bands:[...d2aRows.map((r,i)=>[d2aShades[i],zip(sec2St,r)]),[15,d2a265]],
  masks:[d2aWedge,d2aCorner],lines:[d2aRing,d2aWedgeLine],
  labels:[[12.845,17,'23.40',0],[11.72,79,'24.5',5],[11.89,103,'25.0',8],[11.85,128,'25.5',5],[11.65,172,'26.0',2],[11.65,256,'26.5',-2]]});
panel({...s2Common,...lower,...s2LowerFaint,rect:[813,956,265,176],pal:densColors,base:15,masks:s2masksDeep,
  bands:[[16,d2b27],[17,d2b275]],
  xLabels:sec2LatLabels,xFmt:latFmt,
  notes:[[11.29,1871,'Density  (kg  m⁻³)',11]]});

const chart=echarts.init(document.getElementById('c'),null,{renderer:'canvas'});
chart.setOption({animation:false,backgroundColor:'#fff',title:titles,grid:grids,xAxis:xAxes,yAxis:yAxes,series});
</script></body></html>
